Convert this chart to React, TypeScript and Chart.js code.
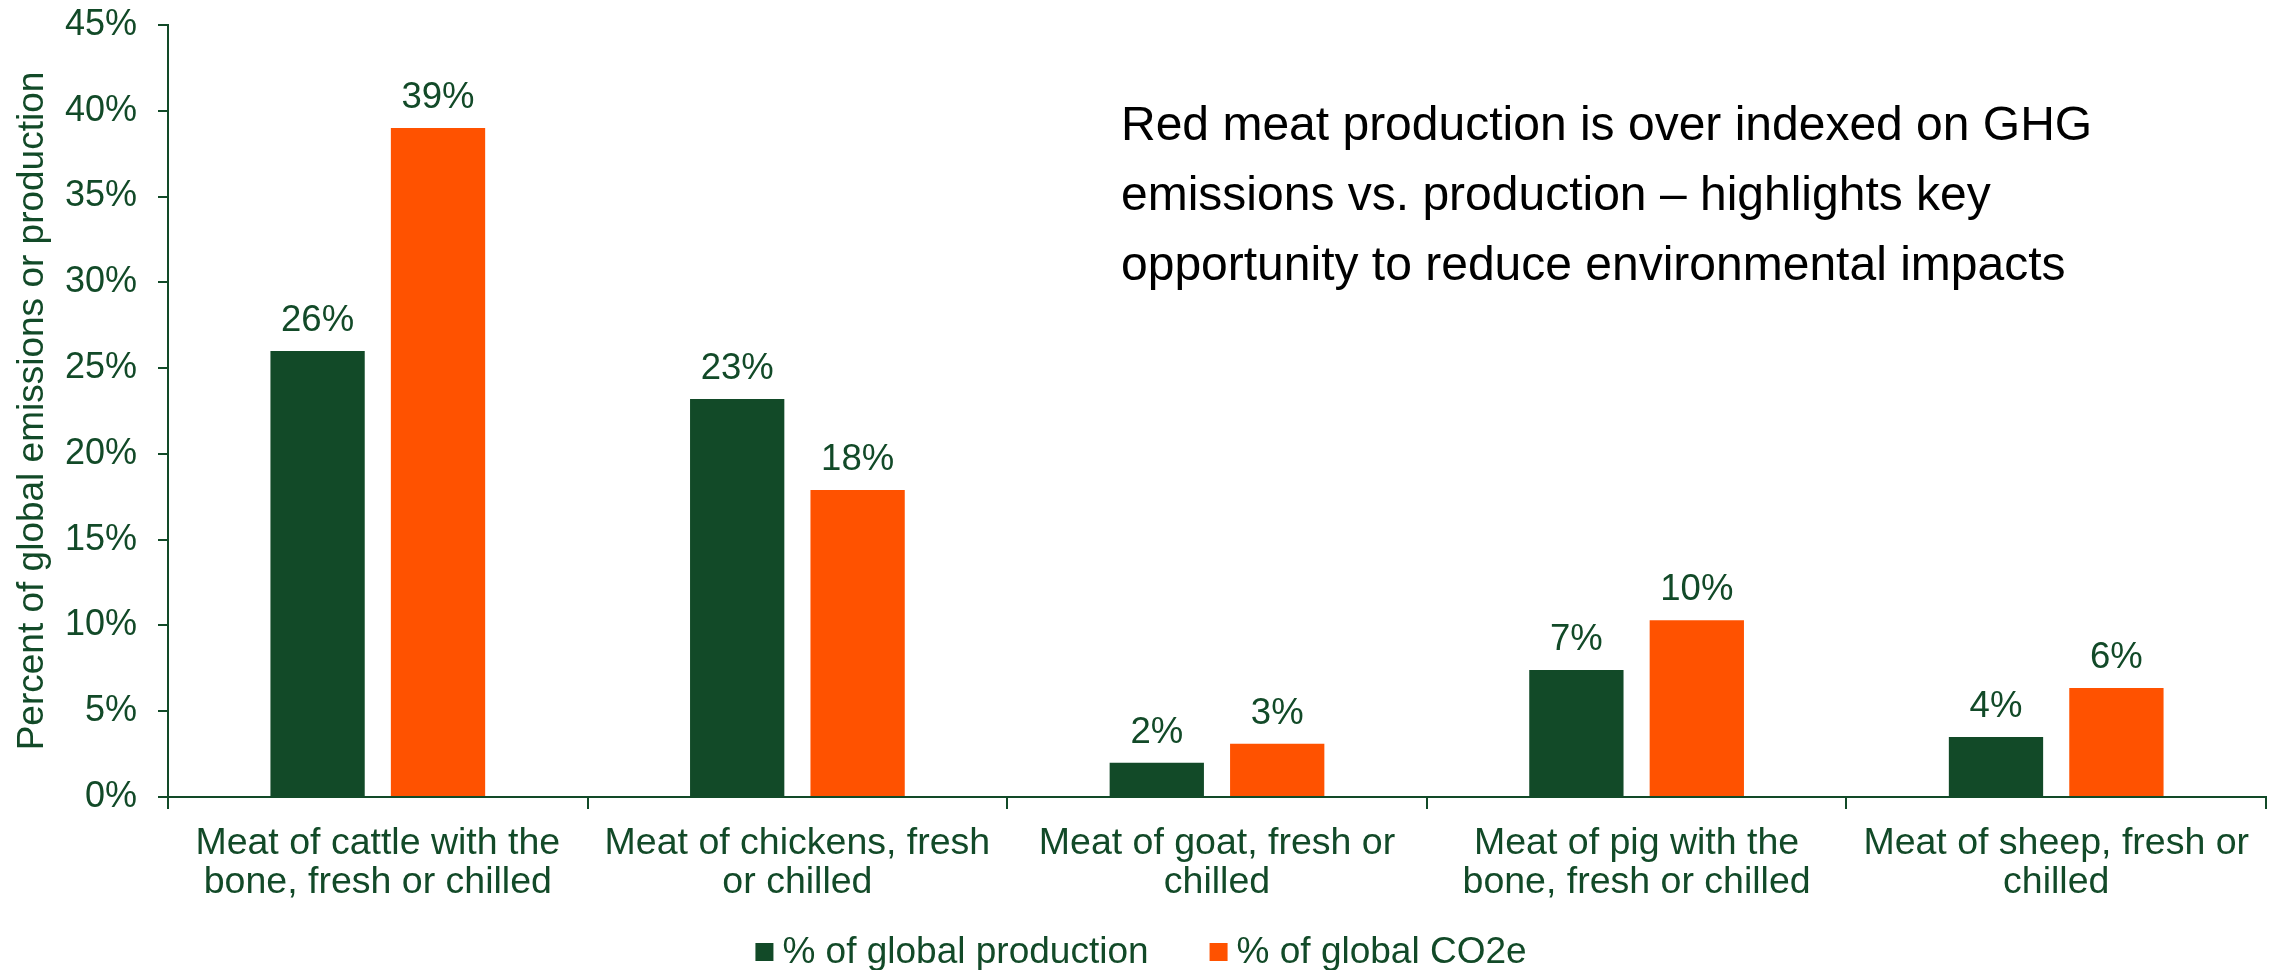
import { useEffect, useRef } from "react";
import { Chart, registerables } from "chart.js";

Chart.register(...registerables);

const categories = [
  ["Meat of cattle with the", "bone, fresh or chilled"],
  ["Meat of chickens, fresh", "or chilled"],
  ["Meat of goat, fresh or", "chilled"],
  ["Meat of pig with the", "bone, fresh or chilled"],
  ["Meat of sheep, fresh or", "chilled"],
];
const productionShare = [26.0, 23.2, 2.0, 7.4, 3.5];
const co2eShare = [39.0, 17.9, 3.1, 10.3, 6.35];
const productionLabels = ["26%", "23%", "2%", "7%", "4%"];
const co2eLabels = ["39%", "18%", "3%", "10%", "6%"];
const seriesNames = ["% of global production", "% of global CO2e"];
const yAxisTitle = "Percent of global emissions or production";
const annotationLines = [
  "Red meat production is over indexed on GHG",
  "emissions vs. production \u2013 highlights key",
  "opportunity to reduce environmental impacts",
];

const GREEN = "#124A28";
const ORANGE = "#FF5200";
const FONT = "'Liberation Sans', Arial, Helvetica, sans-serif";

const valueLabelPlugin = {
  id: "valueLabels",
  afterDatasetsDraw(chart: any) {
    const ctx = chart.ctx;
    const labelSets = [productionLabels, co2eLabels];
    ctx.save();
    ctx.font = `36.5px ${FONT}`;
    ctx.fillStyle = GREEN;
    ctx.textAlign = "center";
    ctx.textBaseline = "alphabetic";
    chart.data.datasets.forEach((_ds: any, di: number) => {
      const meta = chart.getDatasetMeta(di);
      meta.data.forEach((bar: any, i: number) => {
        ctx.fillText(labelSets[di][i], bar.x, bar.y - 20);
      });
    });
    ctx.restore();
  },
};

const annotationPlugin = {
  id: "annotationText",
  afterDraw(chart: any) {
    const ctx = chart.ctx;
    ctx.save();
    ctx.font = `48px ${FONT}`;
    ctx.fillStyle = "#000000";
    ctx.textAlign = "left";
    ctx.textBaseline = "middle";
    annotationLines.forEach((line, i) => {
      ctx.fillText(line, 1121, 127 + i * 70);
    });
    ctx.restore();
  },
};

const customLegendPlugin = {
  id: "customLegend",
  afterDraw(chart: any) {
    const ctx = chart.ctx;
    const colors = [GREEN, ORANGE];
    const box = 18;
    const gap = 9;
    const spacing = 61;
    ctx.save();
    ctx.font = `37px ${FONT}`;
    ctx.textBaseline = "middle";
    ctx.textAlign = "left";
    const widths = seriesNames.map((n) => ctx.measureText(n).width);
    const total =
      widths.reduce((a, w) => a + box + gap + w, 0) + spacing * (seriesNames.length - 1);
    let x = 1141 - total / 2;
    const cy = 952;
    seriesNames.forEach((name, i) => {
      ctx.fillStyle = colors[i];
      ctx.fillRect(x, cy - box / 2, box, box);
      ctx.fillStyle = GREEN;
      ctx.fillText(name, x + box + gap, cy + 1);
      x += box + gap + widths[i] + spacing;
    });
    ctx.restore();
  },
};

export default function App() {
  const canvasRef = useRef<HTMLCanvasElement | null>(null);

  useEffect(() => {
    if (!canvasRef.current) return;
    const chart = new Chart(canvasRef.current, {
      type: "bar",
      data: {
        labels: categories,
        datasets: [
          {
            label: seriesNames[0],
            data: productionShare,
            backgroundColor: GREEN,
            categoryPercentage: 0.574,
            barPercentage: 0.783,
          },
          {
            label: seriesNames[1],
            data: co2eShare,
            backgroundColor: ORANGE,
            categoryPercentage: 0.574,
            barPercentage: 0.783,
          },
        ],
      },
      plugins: [valueLabelPlugin, annotationPlugin, customLegendPlugin],
      options: {
        animation: false,
        responsive: false,
        maintainAspectRatio: false,
        layout: { padding: { top: 25, right: 11, left: 0, bottom: 62 } },
        plugins: {
          legend: { display: false },
          tooltip: { enabled: false },
        },
        scales: {
          x: {
            grid: {
              offset: true,
              drawOnChartArea: false,
              drawTicks: true,
              tickLength: 12,
              color: GREEN,
              lineWidth: 2,
            },
            border: { display: true, color: GREEN, width: 2 },
            ticks: {
              color: GREEN,
              font: { family: FONT, size: 37.5, lineHeight: 1.04 },
              padding: 15,
              maxRotation: 0,
              autoSkip: false,
            },
            afterFit(scale: any) {
              scale.height = 111;
            },
          },
          y: {
            min: 0,
            max: 45,
            grid: {
              drawOnChartArea: false,
              drawTicks: true,
              tickLength: 10,
              color: GREEN,
              lineWidth: 2,
            },
            border: { display: true, color: GREEN, width: 2 },
            ticks: {
              stepSize: 5,
              color: GREEN,
              font: { family: FONT, size: 36 },
              padding: 21,
              callback: (v: any) => `${v}%`,
            },
            title: {
              display: true,
              text: yAxisTitle,
              color: GREEN,
              font: { family: FONT, size: 37, lineHeight: 1 },
              padding: { top: 14, bottom: 0 },
            },
            afterFit(scale: any) {
              scale.width = 168;
              scale.paddingTop = 0;
              scale.paddingBottom = 0;
            },
          },
        },
      },
    } as any);
    return () => chart.destroy();
  }, []);

  return (
    <div
      style={{
        position: "fixed",
        left: 0,
        top: 0,
        width: 2277,
        height: 970,
        overflow: "hidden",
        background: "#ffffff",
      }}
    >
      <canvas ref={canvasRef} width={2277} height={970} style={{ width: 2277, height: 970 }} />
    </div>
  );
}
